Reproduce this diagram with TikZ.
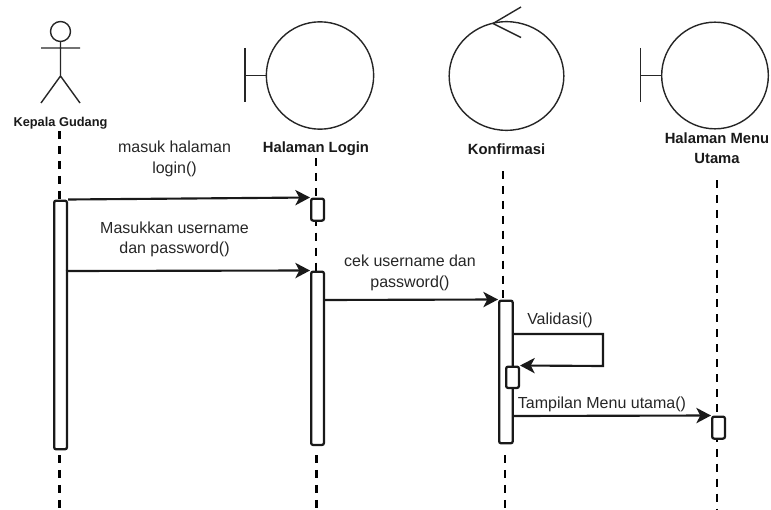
\documentclass[tikz,border=0pt]{standalone}
\usepackage{fontspec}
\setmainfont{Liberation Sans}
\usetikzlibrary{arrows.meta,shapes.geometric}
\tikzset{
  figline/.style={draw=black!85,line width=1.05pt},
  lifeline/.style={draw=black,line width=1.6pt,dash pattern=on 6pt off 5.2pt},
  activation/.style={draw=black!90,fill=white,line width=1.7pt,rounded corners=1.5pt,inner sep=0pt,anchor=north west},
  msg/.style={draw=black!90,line width=1.6pt,-{Stealth[length=11pt,width=11.5pt,inset=3pt]}},
  lbl/.style={font=\fontsize{12pt}{15.4pt}\selectfont,align=center,text=black!85,inner sep=0pt},
  boldlbl/.style={font=\fontsize{11.1pt}{15pt}\selectfont\bfseries,align=center,text=black!90,inner sep=0pt},
}
\begin{document}
\begin{tikzpicture}[x=0.75pt,y=-0.75pt]
\useasboundingbox (0,0) rectangle (771,510);
% actor
\node[figline,circle,minimum size=15pt,inner sep=0pt] (head) at (60.5,31.5) {};
\coordinate (hip) at (60.5,76);
\coordinate (armL) at (41,48);
\coordinate (armR) at (80,48);
\coordinate (legL) at (41,103);
\coordinate (legR) at (80,103);
\draw[figline] (head.south) -- (hip) (armL) -- (armR) (legL) -- (hip) -- (legR);
\node[font=\fontsize{9.6pt}{11pt}\selectfont\bfseries,text=black!90,inner sep=0pt] (actor) at (60.5,123) {Kepala Gudang};
% boundary: Halaman Login
\node[figline,circle,minimum size=80.5pt,inner sep=0pt] (bLogin) at (320,75.5) {};
\coordinate (bLoginT) at (245,75.5);
\coordinate (bLoginA) at (245,48);
\coordinate (bLoginB) at (245,102);
\draw[figline] (bLogin.west) -- (bLoginT) (bLoginA) -- (bLoginB);
\node[boldlbl] (tLogin) at (316,149) {Halaman Login};
% control: Konfirmasi
\node[figline,ellipse,minimum width=86pt,minimum height=81.5pt,inner sep=0pt] (cKonf) at (506.5,76) {};
\coordinate (cTip) at (493,23.5);
\coordinate (cUp) at (521,7);
\coordinate (cDn) at (521,37.5);
\draw[figline] (cUp) -- (cTip) -- (cDn);
\node[boldlbl] (tKonf) at (506.5,149) {Konfirmasi};
% boundary: Halaman Menu Utama
\node[figline,circle,minimum size=80pt,inner sep=0pt] (bMenu) at (715,75.5) {};
\coordinate (bMenuT) at (640.5,75.5);
\coordinate (bMenuA) at (640.5,48);
\coordinate (bMenuB) at (640.5,102);
\draw[figline] (bMenu.west) -- (bMenuT) (bMenuA) -- (bMenuB);
\node[boldlbl] (tMenu) at (717,148.5) {Halaman Menu\\Utama};
% lifeline ends
\coordinate (s1) at (59.5,131);
\coordinate (m1a) at (59.5,200);
\coordinate (s1b) at (59.5,455);
\coordinate (e1) at (59.5,510);
\coordinate (s2) at (316,158);
\coordinate (m2a) at (316,271);
\coordinate (s2b) at (316.5,455);
\coordinate (e2) at (316.5,510);
\coordinate (s3a) at (503,171);
\coordinate (s3b) at (503,300);
\coordinate (s3c) at (505,455);
\coordinate (e3) at (505,510);
\coordinate (s4) at (717,180);
\coordinate (e4) at (717,510);
\draw[lifeline] (s1) -- (m1a);
\draw[lifeline] (s1b) -- (e1);
\draw[lifeline] (s2) -- (m2a);
\draw[lifeline] (s2b) -- (e2);
\draw[lifeline] (s3a) -- (s3b);
\draw[lifeline] (s3c) -- (e3);
\draw[lifeline] (s4) -- (e4);
% activations
\node[activation,minimum width=9.6pt,minimum height=186.5pt] (A1) at (53,199.5) {};
\node[activation,minimum width=9.6pt,minimum height=16.5pt] (L1) at (310,197.5) {};
\node[activation,minimum width=9.6pt,minimum height=130pt] (L2) at (310,270.5) {};
\node[activation,minimum width=10.2pt,minimum height=107pt] (K1) at (498,299.5) {};
\node[activation,minimum width=9.6pt,minimum height=16pt] (K2) at (505,365.5) {};
\node[activation,minimum width=9.6pt,minimum height=16.5pt] (M1) at (711,415.5) {};
% messages
\draw[msg] (A1.north east) -- (L1.north west);
\coordinate (A1m) at (66,271);
\draw[msg] (A1m) -- (L2.north west);
\coordinate (L2m) at (323,300);
\draw[msg] (L2m) -- (K1.north west);
\coordinate (K1a) at (512.5,334);
\coordinate (K1b) at (603,334);
\coordinate (K1c) at (603,366);
\draw[msg] (K1a) -- (K1b) -- (K1c) -- (K2.north east);
\coordinate (K1d) at (512.5,416);
\draw[msg] (K1d) -- (M1.north west);
% labels
\node[lbl] (m1) at (174.5,159) {masuk halaman\\login()};
\node[lbl] (m2) at (174.5,239.5) {Masukkan username\\dan password()};
\node[lbl] (m3) at (410,273) {cek username dan\\password()};
\node[lbl] (m4) at (560,320) {Validasi()};
\node[lbl] (m5) at (602,404.5) {Tampilan Menu utama()};
\end{tikzpicture}
\end{document}
